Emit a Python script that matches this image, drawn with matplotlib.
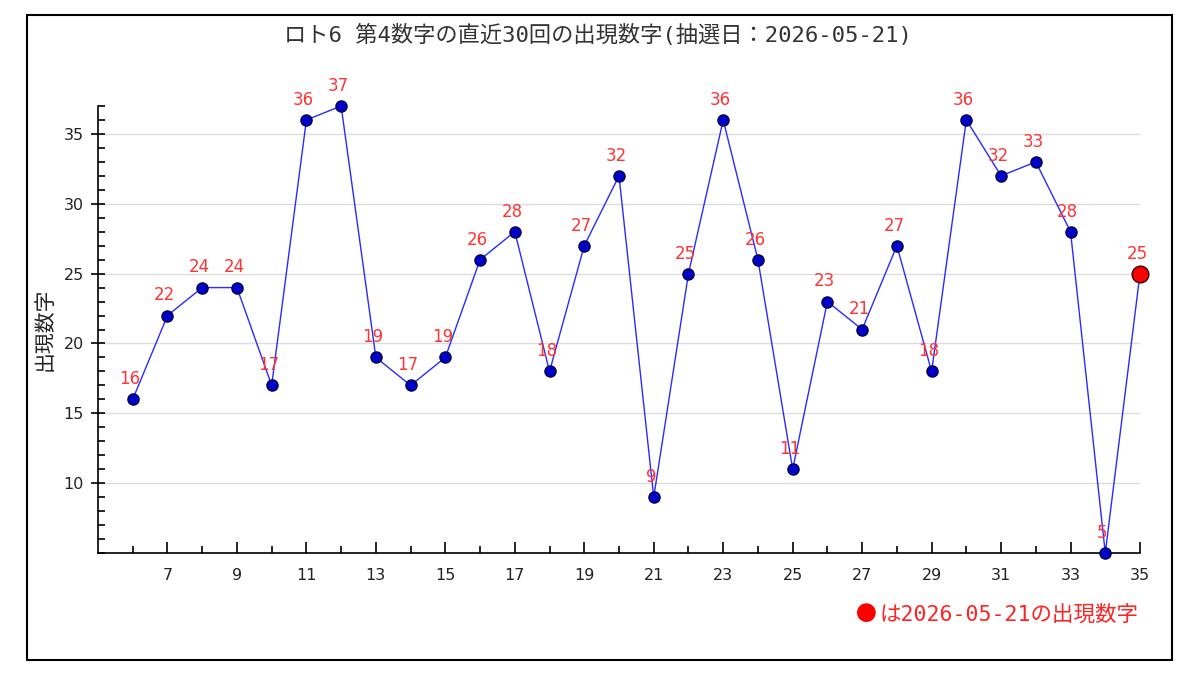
import matplotlib
matplotlib.use('Agg')
import matplotlib.pyplot as plt
from matplotlib.patches import Rectangle
from matplotlib.ticker import MultipleLocator, FixedLocator

plt.rcParams['font.family'] = ['Noto Sans CJK JP', 'DejaVu Sans']
MONO_JP = ['DejaVu Sans Mono', 'Noto Sans CJK JP']

draws = list(range(6, 36))
numbers = [16, 22, 24, 24, 17, 36, 37, 19, 17, 19, 26, 28, 18, 27, 32,
           9, 25, 36, 26, 11, 23, 21, 27, 18, 36, 32, 33, 28, 5, 25]
title = 'ロト6 第4数字の直近30回の出現数字(抽選日：2026-05-21)'
ylabel = '出現数字'
legend_text = 'は2026-05-21の出現数字'

fig = plt.figure(figsize=(12, 6.81), dpi=100)
fig.patches.append(Rectangle((27 / 1200, 1 - 660 / 681), (1172 - 27) / 1200, (660 - 15) / 681,
                             transform=fig.transFigure, fill=False, edgecolor='black', lw=1.5))

ax = fig.add_axes([98 / 1200, 1 - 553 / 681, (1140 - 98) / 1200, (553 - 106) / 681])
ax.set_xlim(5, 35)
ax.set_ylim(5, 37)

ax.plot(draws, numbers, color='#2a2aff', lw=1.0, zorder=3)
ax.plot(draws[:-1], numbers[:-1], 'o', color='#0000cc', markeredgecolor='#000044',
        markersize=8, zorder=4, clip_on=False)
ax.plot(draws[-1:], numbers[-1:], 'o', color='red', markeredgecolor='#330000',
        markersize=12, zorder=5, clip_on=False)

for x, y in zip(draws, numbers):
    ax.annotate(str(y), (x, y), xytext=(-2, 8), textcoords='offset points',
                ha='center', va='bottom', color='#ff3333', fontsize=12,
                family=['DejaVu Sans'], zorder=6, annotation_clip=False)

for s in ['top', 'right']:
    ax.spines[s].set_visible(False)
ax.spines['left'].set_linewidth(1.2)
ax.spines['bottom'].set_linewidth(1.2)

ax.xaxis.set_major_locator(FixedLocator(list(range(7, 36, 2))))
ax.xaxis.set_minor_locator(FixedLocator(list(range(6, 36, 2))))
ax.yaxis.set_major_locator(FixedLocator([10, 15, 20, 25, 30, 35]))
ax.yaxis.set_minor_locator(MultipleLocator(1))
ax.tick_params(axis='x', which='major', direction='in', length=8, width=1.2,
               labelsize=11.5, pad=11)
ax.tick_params(axis='x', which='minor', direction='in', length=5, width=1.2)
ax.tick_params(axis='y', which='major', direction='inout', length=10, width=1.2,
               labelsize=11.5, pad=5)
ax.tick_params(axis='y', which='minor', direction='in', length=5, width=1.2)
for lab in ax.get_xticklabels() + ax.get_yticklabels():
    lab.set_family('DejaVu Sans')
    lab.set_color('#222222')

ax.grid(axis='y', which='major', color='#dddddd', lw=1)
ax.set_axisbelow(True)

ax.set_ylabel(ylabel, fontsize=15, labelpad=6, color='#222222')
fig.text(598 / 1200, 1 - 35 / 681, title, ha='center', va='center', fontsize=16,
         color='#333333', family=MONO_JP)

# legend note: big red dot + text, right aligned
note = fig.text(1138 / 1200, 1 - 615 / 681, legend_text, ha='right', va='center',
                fontsize=15.5, color='#ff2222', family=MONO_JP)
fig.canvas.draw()
bb = note.get_window_extent()
fig.text((bb.x0 - 2) / 1200, 1 - 615 / 681, '●', ha='right', va='center',
         fontsize=15, color='#ff0000', family=['Noto Sans CJK JP'])

fig.savefig('out.png', dpi=100)
